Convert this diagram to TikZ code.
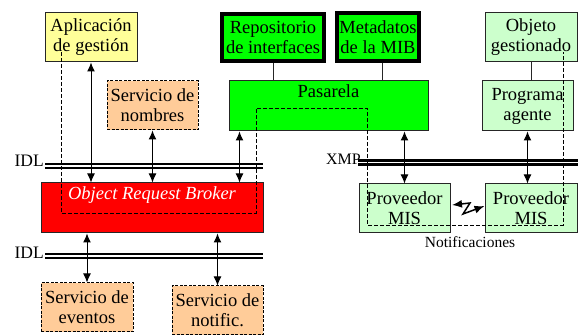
\documentclass[tikz,border=0pt]{standalone}
\usepackage{fontspec}
\setmainfont{Liberation Serif}
\usetikzlibrary{arrows.meta,positioning}
\definecolor{amarillo}{HTML}{FFFF99}
\definecolor{salmon}{HTML}{FFCC99}
\definecolor{verde}{HTML}{00FF00}
\definecolor{verdeclaro}{HTML}{CCFFCC}
\definecolor{rojo}{HTML}{FF0000}
\tikzstyle{block} = [rectangle, draw=black!85, line width=1pt, inner sep=0pt, align=center, minimum width=91pt, minimum height=49pt]
\tikzstyle{service} = [block, draw=black, dash pattern=on 3pt off 1.5pt, fill=salmon]
\tikzstyle{store} = [block, draw=black, line width=4pt, fill=verde]
\tikzstyle{line} = [draw, line width=1pt, {Latex[length=9pt,width=8pt]}-{Latex[length=9pt,width=8pt]}]
\tikzstyle{bus} = [draw, double, line width=2.3pt, double distance=1.7pt]
\tikzstyle{route} = [draw, line width=0.8pt, dash pattern=on 4pt off 2pt]
\tikzstyle{bolt} = [draw, line width=1.5pt, {Latex[length=10pt,width=8pt]}-{Latex[length=10pt,width=8pt]}]

\begin{document}
\begin{tikzpicture}[x=1pt, y=1pt, every node/.style={font=\fontsize{18.5}{20}\selectfont}]
		\useasboundingbox (0,0) rectangle (581,-336);
		% Row 1
		\node[block, fill=amarillo, minimum width=92pt] (Aplicacion) at (91,-37.5) {Aplicación\\de gestión};
		\node[store, minimum width=102pt, minimum height=47pt] (Repositorio) at (273,-37.5) {Repositorio\\de interfaces};
		\node[store, right of=Repositorio, node distance=105pt, minimum width=82pt, minimum height=48pt] (Metadatos) {Metadatos\\de la MIB};
		\node[block, fill=verdeclaro, minimum width=92pt] (Objeto) at (531,-37.5) {Objeto\\gestionado};
		
		% Row 2
		\node[service] (Nombres) at (152.5,-105.5) {Servicio de\\nombres};
		\node[block, fill=verde, minimum width=199pt, minimum height=50pt, label={[anchor=north, inner sep=4pt]north:Pasarela}] (Pasarela) at (328.5,-106) {};
		\node[block, fill=verdeclaro, minimum height=50pt] (Programa) at (527.5,-106) {Programa\\agente};
		
		% Row 3
		\node[block, fill=rojo, minimum width=222pt, minimum height=50pt, label={[anchor=north, inner sep=4pt, text=white, font=\fontsize{18.5}{20}\selectfont\itshape]north:Object Request Broker}] (ORB) at (152,-208) {};
		\node[block, fill=verdeclaro] (Proveedor1) at (404.5,-208.5) {Proveedor\\MIS};
		\node[block, fill=verdeclaro, minimum width=92pt, below of=Objeto, node distance=171pt] (Proveedor2) {Proveedor\\MIS};
		\node[font=\fontsize{15.5}{17}\selectfont] (Notificaciones) at (470,-242) {Notificaciones};
		
		% Row 4
		\node[service, minimum width=92pt] (Eventos) at (87,-307.5) {Servicio de\\eventos};
		\node[service] (Notific) at (217.5,-310.5) {Servicio de\\notific.};
		
		% Buses
		\coordinate (idlA) at (45,-166);
		\coordinate (idlB) at (263,-166);
		\coordinate (idlC) at (45,-256);
		\coordinate (idlD) at (263,-256);
		\coordinate (xmpA) at (358,-162.5);
		\coordinate (xmpB) at (578,-162.5);
		\path[bus] (idlA) -- (idlB);
		\path[bus] (idlC) -- (idlD);
		\path[bus] (xmpA) -- (xmpB);
		\node[anchor=base east, inner sep=1pt, font=\fontsize{17.5}{20}\selectfont] (IDLtop) at ([yshift=-1pt]idlA) {IDL};
		\node[anchor=base east, inner sep=1pt, font=\fontsize{17.5}{20}\selectfont] (IDLbottom) at ([yshift=-2.5pt]idlC) {IDL};
		\node[anchor=base east, inner sep=0pt, font=\fontsize{16}{20}\selectfont] (XMP) at ([shift={(3pt,-2.5pt)}]xmpA) {XMP};
		
		% Paths
		\draw[black!85, line width=1pt] (Repositorio.south) -- (Repositorio.south |- Pasarela.north);
		\draw[black!85, line width=1pt] ([xshift=4pt]Metadatos.south) -- ([xshift=4pt]Metadatos.south |- Pasarela.north);
		\draw[black!85, line width=1pt] (Objeto.south) -- (Objeto.south |- Programa.north);
		\path[line] (Aplicacion.south) -- (Aplicacion.south |- ORB.north);
		\path[line] (Nombres.south) -- (Nombres.south |- ORB.north);
		\path[line] ([xshift=11pt]Pasarela.south west) -- ([xshift=11pt]Pasarela.south west |- ORB.north);
		\path[line] (ORB.south -| Eventos.north) -- (Eventos.north);
		\path[line] (ORB.south -| Notific.north) -- (Notific.north);
		\path[line] (Pasarela.south -| Proveedor1.north) -- (Proveedor1.north);
		\path[line] (Programa.south) -- (Programa.south |- Proveedor2.north);
		\path[bolt] ([shift={(1.5pt,3.5pt)}]Proveedor1.east) -- (470,-203) -- (463,-214) -- ([yshift=2.5pt]Proveedor2.west);
		
		% Dashed route
		\coordinate (routeA) at (61,-52);
		\coordinate (routeB) at (563,-52);
		\path[route] (routeA) |- (256,-213) |- (367,-108) |- (563,-225) -- (routeB);
		
	\end{tikzpicture}
\end{document}
